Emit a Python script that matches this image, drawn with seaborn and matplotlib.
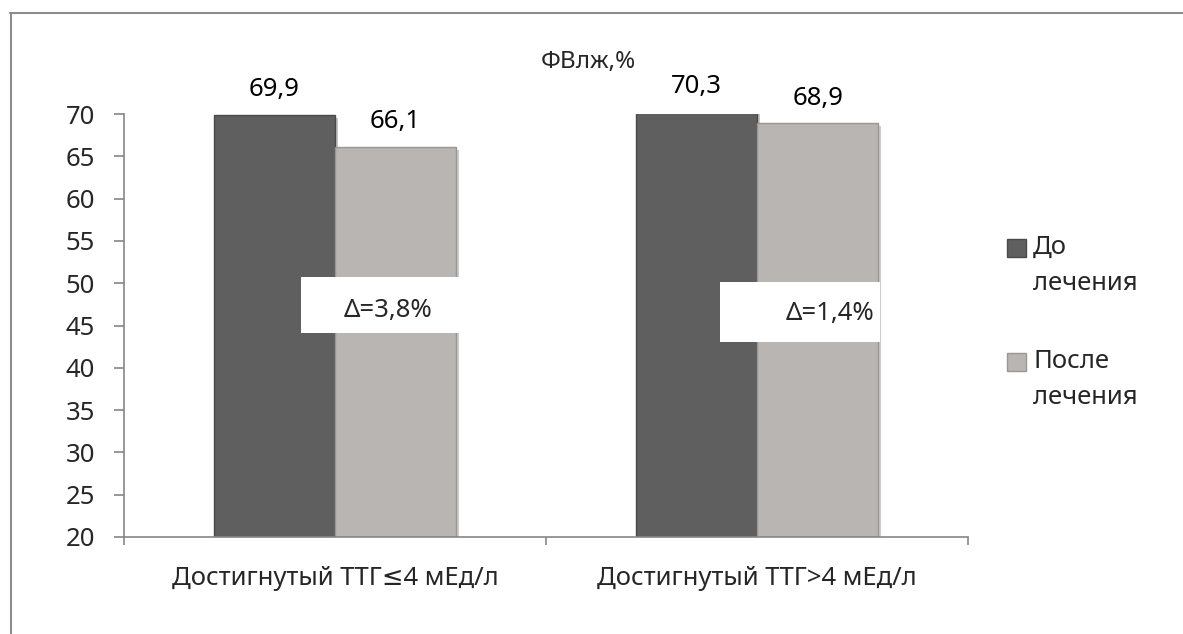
import numpy as np
import pandas as pd
import matplotlib
matplotlib.use("Agg")
import matplotlib.pyplot as plt
import matplotlib.patheffects as pe
import seaborn as sns
from matplotlib.patches import Rectangle, Patch
from matplotlib.lines import Line2D

# ---- data ----
categories = ["Достигнутый ТТГ≤4 мЕд/л", "Достигнутый ТТГ>4 мЕд/л"]
series = ["До\nлечения", "После\nлечения"]
before_vals = [69.9, 70.3]
after_vals = [66.1, 68.9]
delta_labels = ["Δ=3,8%", "Δ=1,4%"]
title_text = "ФВлж,%"
y_ticks = [20, 25, 30, 35, 40, 45, 50, 55, 60, 65, 70]

dark = "#5f5f5f"
light = "#b9b5b2"

sns.set_theme(style="white")
plt.rcParams['font.family'] = ['Noto Sans', 'DejaVu Sans']
FS = 18.5

df = pd.DataFrame({
    "group": categories * 2,
    "period": [series[0]] * 2 + [series[1]] * 2,
    "value": before_vals + after_vals,
})

W, H = 1183, 634
fig = plt.figure(figsize=(W / 100, H / 100), dpi=100)
ax = fig.add_axes([124 / W, 97 / H, 844 / W, 423 / H])

sns.barplot(data=df, x="group", y="value", hue="period", order=categories,
            hue_order=series, palette=[dark, light], width=0.575, gap=0,
            ax=ax, legend=False, errorbar=None, saturation=1)

edge_cols = ["#4a4a4a", "#9a9693"]
for cont, ec in zip(ax.containers, edge_cols):
    for p in cont:
        p.set_edgecolor(ec)
        p.set_linewidth(1.0)
        p.set_path_effects([pe.SimplePatchShadow(offset=(2, -2), alpha=0.25),
                            pe.Normal()])

for cont in ax.containers:
    vals = [p.get_height() for p in cont]
    anns = ax.bar_label(cont, labels=[f"{v:.1f}".replace(".", ",") for v in vals],
                        padding=9, fontsize=FS, color="black")
    for a in anns:
        a.set_annotation_clip(False)

ax.set_ylim(20, 70)
ax.set_xlim(-0.5, 1.5)
ax.set_yticks(y_ticks)
ax.set_yticklabels([str(t) for t in y_ticks], fontsize=FS)
ax.set_xticks([-0.5, 0.5, 1.5])
ax.set_xticklabels(["", "", ""])
ax.set_xticks([0, 1], minor=True)
ax.set_xticklabels(categories, minor=True, fontsize=FS)
ax.set_xlabel("")
ax.set_ylabel("")

axc = "#868686"
for s in ["top", "right"]:
    ax.spines[s].set_visible(False)
for s in ["left", "bottom"]:
    ax.spines[s].set_color(axc)
    ax.spines[s].set_linewidth(1.2)
ax.tick_params(axis="y", which="major", direction="out", length=7, width=1.2,
               color=axc, pad=14, left=True)
ax.tick_params(axis="x", which="major", direction="out", length=6, width=1.2,
               color=axc, bottom=True)
ax.tick_params(axis="x", which="minor", length=0, pad=21)

# delta boxes
boxes = [(-0.081, 44.1, 0.384, 6.6), (0.912, 43.05, 0.379, 7.05)]
txt_pos = [(0.126, 46.8), (1.173, 46.4)]
for (x0, y0, w, h), (tx, ty), lab in zip(boxes, txt_pos, delta_labels):
    ax.add_patch(Rectangle((x0, y0), w, h, facecolor="white", edgecolor="none",
                           zorder=5, clip_on=False))
    ax.text(tx, ty, lab, ha="center", va="center", fontsize=FS, zorder=6)

# title
fig.text(588 / W, 1 - 62 / H, title_text, ha="center", va="center", fontsize=FS - 1)

# legend
handles = [Patch(facecolor=dark, edgecolor="#4a4a4a"),
           Patch(facecolor=light, edgecolor="#9a9693")]
leg = fig.legend(handles, series, loc="upper left",
                 bbox_to_anchor=(1007 / W, 1 - 235 / H),
                 frameon=False, fontsize=FS, handlelength=0.72, handleheight=0.72,
                 handletextpad=0.3, labelspacing=2.05, borderpad=0, borderaxespad=0)
LS = 1.6
for t in leg.get_texts():
    t.set_linespacing(LS)
for h in leg.legend_handles:
    h.set_y(h.get_y() + 13.1)

# outer frame (top and left only visible)
fc = "#8c8c8c"
fig.add_artist(Line2D([10 / W, 1.0], [1 - 12.5 / H] * 2, transform=fig.transFigure,
                      color=fc, lw=1.5))
fig.add_artist(Line2D([10.5 / W] * 2, [0.0, 1 - 12.5 / H], transform=fig.transFigure,
                      color=fc, lw=1.5))

fig.savefig("out.png", dpi=100, facecolor="white")
